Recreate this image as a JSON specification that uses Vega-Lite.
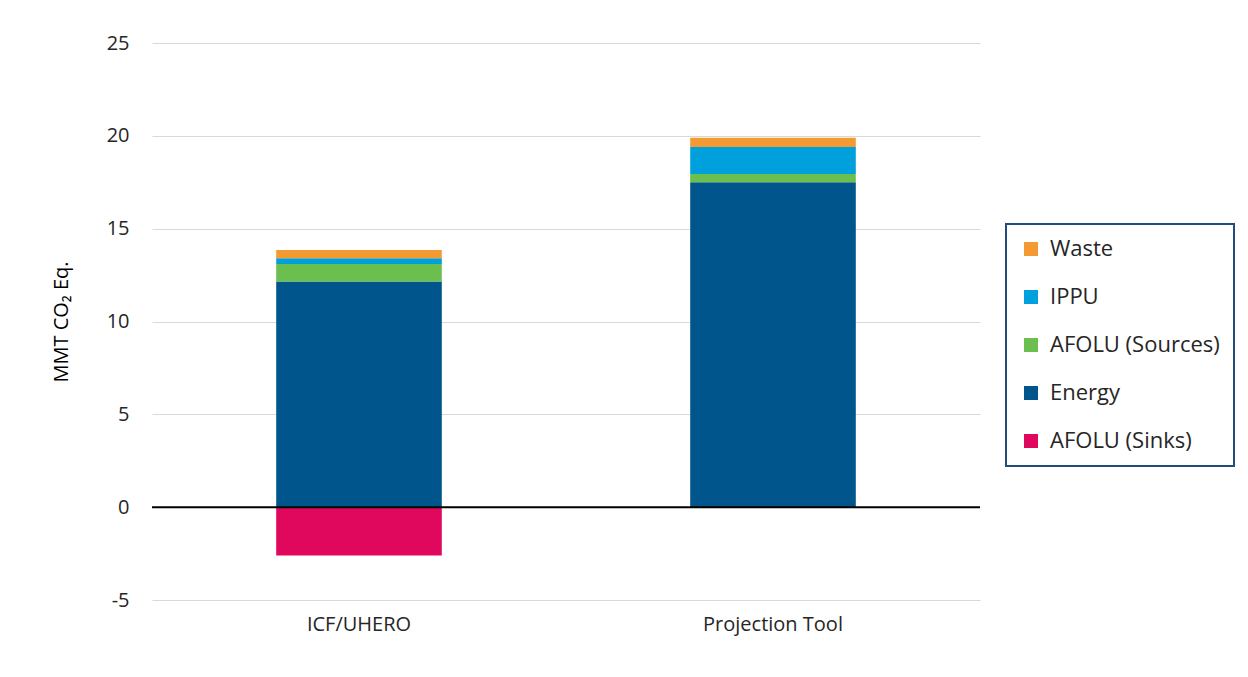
{
  "$schema": "https://vega.github.io/schema/vega-lite/v6.json",
  "width": 828,
  "height": 557,
  "autosize": {"type": "none"},
  "padding": {"left": 152, "top": 43, "right": 268, "bottom": 77},
  "background": "white",
  "config": {
    "font": "Open Sans",
    "view": {"stroke": null},
    "legend": {"strokeWidth": 2}
  },
  "datasets": {
    "bars": [
      {"source": "ICF/UHERO", "sector": "Energy", "value": 12.15, "ord": 1},
      {"source": "ICF/UHERO", "sector": "AFOLU (Sources)", "value": 0.95, "ord": 2},
      {"source": "ICF/UHERO", "sector": "IPPU", "value": 0.3, "ord": 3},
      {"source": "ICF/UHERO", "sector": "Waste", "value": 0.45, "ord": 4},
      {"source": "ICF/UHERO", "sector": "AFOLU (Sinks)", "value": -2.6, "ord": 5},
      {"source": "Projection Tool", "sector": "Energy", "value": 17.5, "ord": 1},
      {"source": "Projection Tool", "sector": "AFOLU (Sources)", "value": 0.45, "ord": 2},
      {"source": "Projection Tool", "sector": "IPPU", "value": 1.45, "ord": 3},
      {"source": "Projection Tool", "sector": "Waste", "value": 0.5, "ord": 4},
      {"source": "Projection Tool", "sector": "AFOLU (Sinks)", "value": 0, "ord": 5}
    ],
    "zero": [{"value": 0}]
  },
  "layer": [
    {
      "data": {"name": "bars"},
      "mark": {"type": "bar"},
      "encoding": {
        "x": {
          "field": "source",
          "type": "nominal",
          "sort": ["ICF/UHERO", "Projection Tool"],
          "scale": {"paddingInner": 0.6, "paddingOuter": 0.3},
          "axis": {
            "title": null,
            "labelAngle": 0,
            "labelFontSize": 20,
            "labelColor": "#262626",
            "labelPadding": 14,
            "domain": false,
            "ticks": false
          }
        },
        "y": {
          "field": "value",
          "type": "quantitative",
          "stack": "zero",
          "scale": {"domain": [-5, 25], "nice": false},
          "axis": {
            "values": [-5, 0, 5, 10, 15, 20, 25],
            "labelExpr": "replace(datum.label, '−', '-')",
            "title": "MMT CO₂ Eq.",
            "titleFontSize": 20,
            "titleFontWeight": "normal",
            "titleColor": "#000000",
            "titlePadding": 35,
            "labelFontSize": 20,
            "labelColor": "#262626",
            "labelPadding": 23,
            "domain": false,
            "ticks": false,
            "gridColor": "#d9d9d9",
            "gridWidth": 1.2
          }
        },
        "color": {
          "field": "sector",
          "type": "nominal",
          "scale": {
            "domain": ["Waste", "IPPU", "AFOLU (Sources)", "Energy", "AFOLU (Sinks)"],
            "range": ["#F39A33", "#00A0DC", "#6BBF4E", "#00558C", "#E0085C"]
          },
          "legend": {
            "title": null,
            "orient": "none",
            "legendX": 854,
            "legendY": 181,
            "symbolType": "square",
            "symbolSize": 196,
            "labelFontSize": 22,
            "labelLimit": 300,
            "labelColor": "#262626",
            "labelOffset": 8,
            "rowPadding": 26,
            "padding": 14,
            "strokeColor": "#1F4E79",
            "cornerRadius": 0,
            "symbolStrokeWidth": 0
          }
        },
        "order": {"field": "ord", "type": "quantitative"}
      }
    },
    {
      "data": {"name": "zero"},
      "mark": {"type": "rule", "color": "#000000", "strokeWidth": 2},
      "encoding": {"y": {"field": "value", "type": "quantitative"}}
    }
  ]
}
